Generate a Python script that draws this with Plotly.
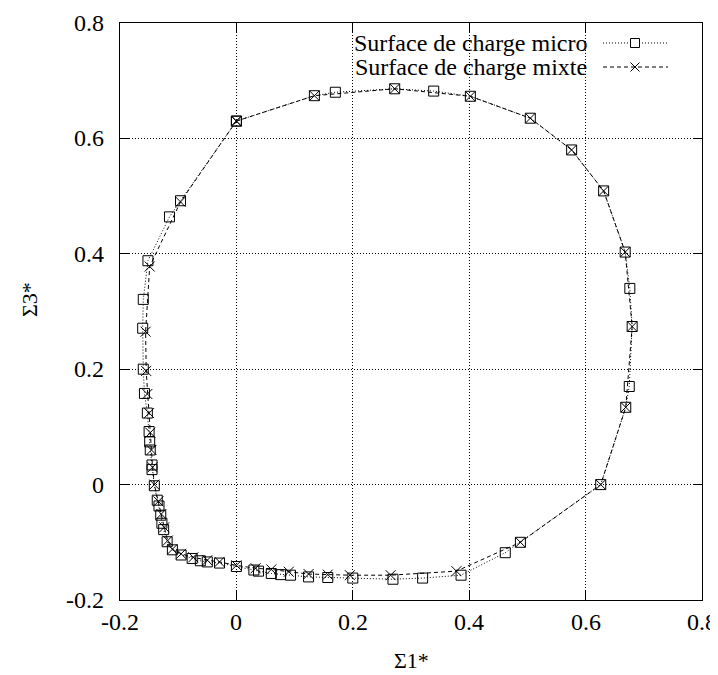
import plotly.graph_objects as go

# Surface de charge micro (squares)
micro_s1 = [0.000, 0.134, 0.170, 0.272, 0.339, 0.402, 0.505, 0.576, 0.631, 0.668,
            0.676, 0.680, 0.675, 0.669, 0.626, 0.488, 0.462, 0.386, 0.320, 0.269,
            0.200, 0.157, 0.124, 0.093, 0.076, 0.060, 0.038, 0.030, 0.000, -0.029,
            -0.050, -0.062, -0.076, -0.095, -0.110, -0.119, -0.125, -0.128, -0.130, -0.133,
            -0.136, -0.141, -0.145, -0.145, -0.148, -0.149, -0.150, -0.153, -0.158, -0.160,
            -0.161, -0.160, -0.152, -0.115, -0.096, 0.000]
micro_s3 = [0.630, 0.674, 0.680, 0.686, 0.682, 0.673, 0.635, 0.580, 0.509, 0.403,
            0.340, 0.274, 0.170, 0.134, 0.000, -0.100, -0.118, -0.157, -0.162, -0.164,
            -0.162, -0.161, -0.160, -0.157, -0.156, -0.154, -0.150, -0.148, -0.142, -0.136,
            -0.134, -0.132, -0.128, -0.122, -0.113, -0.099, -0.078, -0.067, -0.053, -0.037,
            -0.027, -0.002, 0.026, 0.034, 0.060, 0.074, 0.092, 0.124, 0.158, 0.200,
            0.271, 0.321, 0.388, 0.464, 0.492, 0.630]

# Surface de charge mixte (crosses)
mixte_s1 = [0.000, 0.134, 0.272, 0.402, 0.505, 0.576, 0.631, 0.668, 0.680, 0.669,
            0.626, 0.488, 0.378, 0.265, 0.195, 0.157, 0.124, 0.090, 0.060, 0.033,
            0.000, -0.029, -0.050, -0.074, -0.095, -0.110, -0.118, -0.124, -0.129, -0.134,
            -0.141, -0.144, -0.146, -0.148, -0.150, -0.153, -0.155, -0.156, -0.149, -0.096,
            0.000]
mixte_s3 = [0.630, 0.674, 0.686, 0.673, 0.635, 0.580, 0.509, 0.403, 0.274, 0.134,
            0.000, -0.100, -0.150, -0.157, -0.157, -0.156, -0.155, -0.151, -0.147, -0.145,
            -0.140, -0.134, -0.131, -0.126, -0.120, -0.112, -0.097, -0.074, -0.051, -0.029,
            0.000, 0.030, 0.060, 0.090, 0.124, 0.157, 0.197, 0.265, 0.378, 0.490,
            0.630]

tick_vals = [-0.2, 0, 0.2, 0.4, 0.6, 0.8]
tick_text = ["-0.2", "0", "0.2", "0.4", "0.6", "0.8"]
series_names = ["Surface de charge micro", "Surface de charge mixte"]

FONT = "Liberation Serif, DejaVu Serif, serif"

fig = go.Figure()
fig.add_trace(go.Scatter(
    x=micro_s1, y=micro_s3, mode="lines+markers", name=series_names[0],
    line=dict(color="black", width=1, dash="1px,2px"),
    marker=dict(symbol="square-open", size=10, color="black", line=dict(width=1, color="black")),
))
fig.add_trace(go.Scatter(
    x=mixte_s1, y=mixte_s3, mode="lines+markers", name=series_names[1],
    line=dict(color="black", width=1, dash="4px,3px"),
    marker=dict(symbol="x-thin-open", size=10, color="black", line=dict(width=1, color="black")),
))

OFF = 8  # default page body margin
W, H = 718 - OFF, 675 - OFF
# frame in reference page pixels: left 119.5, right 702, top 23, bottom 600
L, T = 120 - OFF, 23 - OFF
R = W - (702 - OFF)
B = H - (600 - OFF)
pw, ph = W - L - R, H - T - B

def px(x):
    return (x - OFF - L) / pw

def py(y):
    return (H - B - (y - OFF)) / ph

shapes = []
annotations = []
# white key background covering grid lines
shapes.append(dict(type="rect", xref="paper", yref="paper", layer="between",
                   x0=px(348), x1=px(700), y0=py(80), y1=py(30),
                   fillcolor="white", line=dict(width=0)))
rows = [43, 67]
for i, name in enumerate(series_names):
    yy = py(rows[i])
    annotations.append(dict(xref="paper", yref="paper", x=px(589), y=yy, text=name,
                            showarrow=False, xanchor="right", yanchor="middle",
                            font=dict(family=FONT, size=24, color="black")))
    shapes.append(dict(type="line", xref="paper", yref="paper", x0=px(603), x1=px(668),
                       y0=yy, y1=yy,
                       line=dict(color="black", width=1, dash="1px,2px" if i == 0 else "4px,3px")))
cx = px(635)
hw, hh = 4.5 / pw, 4.5 / ph
y0 = py(rows[0])
shapes.append(dict(type="rect", xref="paper", yref="paper", x0=cx - hw, x1=cx + hw,
                   y0=y0 - hh, y1=y0 + hh, fillcolor="white", line=dict(color="black", width=1)))
y1 = py(rows[1])
shapes.append(dict(type="line", xref="paper", yref="paper", x0=cx - hw, x1=cx + hw,
                   y0=y1 - hh, y1=y1 + hh, line=dict(color="black", width=1)))
shapes.append(dict(type="line", xref="paper", yref="paper", x0=cx - hw, x1=cx + hw,
                   y0=y1 + hh, y1=y1 - hh, line=dict(color="black", width=1)))

# tick labels (serif) placed at the axis tick values
for v, t in zip(tick_vals, tick_text):
    annotations.append(dict(xref="x", yref="paper", x=v, y=py(622), text=t,
                            showarrow=False, xanchor="center", yanchor="middle",
                            font=dict(family=FONT, size=24, color="black")))
    annotations.append(dict(xref="paper", yref="y", x=px(106), y=v, text=t,
                            showarrow=False, xanchor="right", yanchor="middle",
                            font=dict(family=FONT, size=24, color="black")))

annotations.append(dict(xref="paper", yref="paper", x=px(411), y=py(660), text="Σ1*",
                        showarrow=False, xanchor="center", yanchor="middle",
                        font=dict(family=FONT, size=22, color="black")))
annotations.append(dict(xref="paper", yref="paper", x=px(30), y=py(300), text="Σ3*",
                        showarrow=False, xanchor="center", yanchor="middle", textangle=-90,
                        font=dict(family=FONT, size=22, color="black")))

axis_common = dict(
    tickvals=tick_vals, showticklabels=False,
    showgrid=True, gridcolor="black", gridwidth=1, griddash="1px,2px",
    zeroline=False, showline=True, linecolor="black", linewidth=1, mirror="ticks",
    ticks="inside", ticklen=9, tickcolor="black", tickwidth=1,
    automargin=False,
)

fig.update_layout(
    width=W, height=H,
    margin=dict(l=L, r=R, t=T, b=B, autoexpand=False),
    paper_bgcolor="white", plot_bgcolor="white",
    font=dict(family=FONT, size=24, color="black"),
    showlegend=False,
    xaxis=dict(range=[-0.2, 0.8], **axis_common),
    yaxis=dict(range=[-0.2, 0.8], **axis_common),
    shapes=shapes, annotations=annotations,
)

fig.write_html("out.html")
